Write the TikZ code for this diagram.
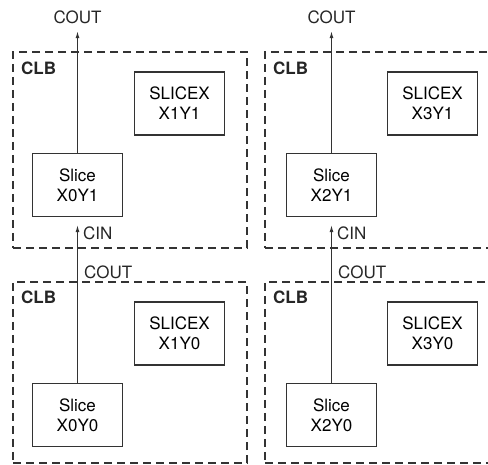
\documentclass[tikz,border=0pt]{standalone}
\usepackage{fontspec}
\setmainfont{TeX Gyre Heros}
\usetikzlibrary{arrows.meta,positioning}

\begin{document}
\begin{tikzpicture}[x=1pt,y=-1pt, >={Latex[length=7pt,width=4pt]},
  clb/.style={draw=black!80,line width=1.1pt,dash pattern=on 8pt off 5pt,minimum width=234pt,inner sep=0pt},
  slice/.style={draw=black!80,line width=1.2pt,align=center,minimum width=90pt,minimum height=63pt,inner sep=0pt},
  sig/.style={text=black!85,inner sep=2pt},
  tag/.style={font=\fontsize{17pt}{20pt}\selectfont\bfseries,text=black!85,anchor=west,inner sep=0pt},
  wire/.style={draw=black!80,line width=1.1pt},
  every node/.append style={font=\fontsize{17pt}{20pt}\selectfont}]
\clip (0,0) rectangle (488,465);
\useasboundingbox (0,0) rectangle (488,465);
% CLB frames
\node[clb,minimum height=196pt] (clbA) at (130,150) {};
\node[clb,minimum height=181pt] (clbB) at (130,372.5) {};
\node[clb,minimum height=196pt] (clbC) at (382,150) {};
\node[clb,minimum height=181pt] (clbD) at (382,372.5) {};
\node[tag] (tagA) at (21,68) {CLB};
\node[tag] (tagB) at (21,297) {CLB};
\node[tag] (tagC) at (273,68) {CLB};
\node[tag] (tagD) at (273,297) {CLB};
% slices
\node[slice] (sA) at (77.5,185) {Slice\\X0Y1};
\node[slice] (sB) at (77.5,415) {Slice\\X0Y0};
\node[slice] (sC) at (331.5,185) {Slice\\X2Y1};
\node[slice] (sD) at (331.5,415) {Slice\\X2Y0};
\node[slice] (xA) at (179.5,103.5) {SLICEX\\X1Y1};
\node[slice] (xB) at (179.5,333.5) {SLICEX\\X1Y0};
\node[slice] (xC) at (432.5,103.5) {SLICEX\\X3Y1};
\node[slice] (xD) at (432.5,333.5) {SLICEX\\X3Y0};
% carry chain
\node[sig,inner ysep=7pt] (coutA) at (77.5,17.5) {COUT};
\node[sig,inner ysep=7pt] (coutC) at (331.5,17.5) {COUT};
\node[sig,anchor=west] (cinA) at (81,233) {CIN};
\node[sig,anchor=west] (cinC) at (335,233) {CIN};
\node[sig,anchor=west] (coutB) at (82,272) {COUT};
\node[sig,anchor=west] (coutD) at (336,272) {COUT};
\draw[wire,->] (sA.north) -- (coutA.south);
\draw[wire,->] (sC.north) -- (coutC.south);
\draw[wire,->] (sB.north) -- ([yshift=-8pt]sA.south);
\draw[wire,->] (sD.north) -- ([yshift=-8pt]sC.south);
\end{tikzpicture}
\end{document}
